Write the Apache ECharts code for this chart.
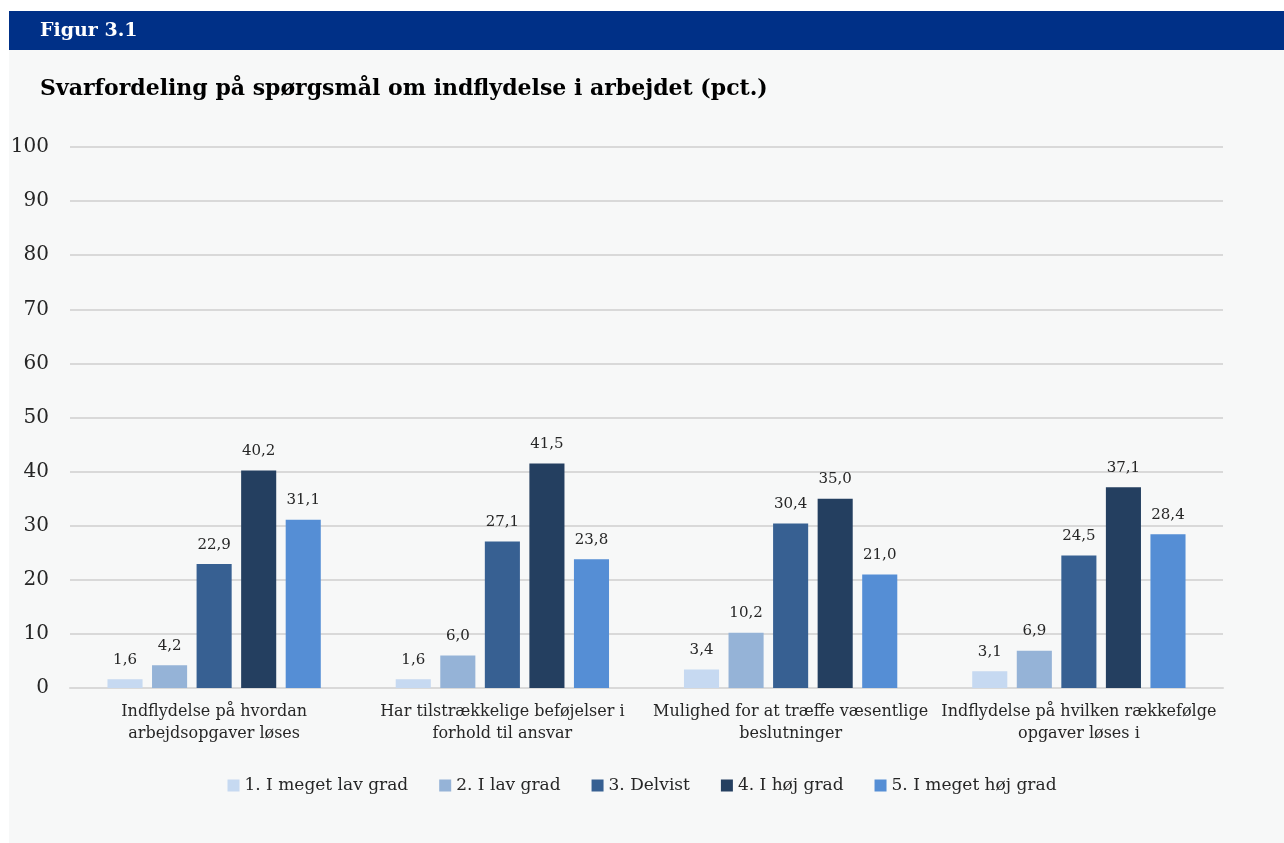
<!DOCTYPE html>
<html>
<head>
<meta charset="utf-8">
<script src="https://cdn.jsdelivr.net/npm/echarts@6/dist/echarts.min.js"></script>
<style>
html,body{margin:0;padding:0;background:#fff;}
#chart{width:1284px;height:843px;}
</style>
</head>
<body>
<div id="chart"></div>
<script>
var figureLabel = 'Figur 3.1';
var chartTitle = 'Svarfordeling på spørgsmål om indflydelse i arbejdet (pct.)';
var categories = [
  'Indflydelse på hvordan\narbejdsopgaver løses',
  'Har tilstrækkelige beføjelser i\nforhold til ansvar',
  'Mulighed for at træffe væsentlige\nbeslutninger',
  'Indflydelse på hvilken rækkefølge\nopgaver løses i'
];
var seriesNames = ['1. I meget lav grad', '2. I lav grad', '3. Delvist', '4. I høj grad', '5. I meget høj grad'];
var s1 = [1.6, 1.6, 3.4, 3.1];
var s2 = [4.2, 6.0, 10.2, 6.9];
var s3 = [22.9, 27.1, 30.4, 24.5];
var s4 = [40.2, 41.5, 35.0, 37.1];
var s5 = [31.1, 23.8, 21.0, 28.4];
var yTicks = [0, 10, 20, 30, 40, 50, 60, 70, 80, 90, 100];

var seriesValues = [s1, s2, s3, s4, s5];
var colors = ['#c6d9f1', '#95b3d7', '#376092', '#243f60', '#558ed5'];
var FONT = 'DejaVu Serif';

var chart = echarts.init(document.getElementById('chart'), null, {renderer: 'canvas'});
var option = {
  backgroundColor: '#ffffff',
  animation: false,
  color: colors,
  graphic: [
    {type: 'rect', z: -10, shape: {x: 9, y: 50, width: 1275, height: 793}, style: {fill: '#f7f8f8'}},
    {type: 'rect', z: -10, shape: {x: 9, y: 11, width: 1275, height: 39}, style: {fill: '#003087'}},
    {type: 'text', left: 40, top: 22, style: {text: figureLabel, fill: '#ffffff', font: 'bold 19px "DejaVu Serif"'}},
    {type: 'text', left: 40, top: 78, style: {text: chartTitle, fill: '#000000', font: 'bold 22px "DejaVu Serif"'}}
  ],
  grid: {left: 70, right: 61, top: 147, bottom: 155, containLabel: false},
  legend: {
    top: 772,
    left: 'center',
    itemWidth: 12,
    itemHeight: 12,
    itemGap: 31,
    icon: 'rect',
    textStyle: {fontFamily: FONT, fontSize: 17, color: '#262626'},
    data: seriesNames
  },
  xAxis: {
    type: 'category',
    data: categories,
    axisLine: {lineStyle: {color: '#d9d9d9', width: 2}},
    axisTick: {show: false},
    axisLabel: {fontFamily: FONT, fontSize: 16, color: '#262626', lineHeight: 22, margin: 13, interval: 0}
  },
  yAxis: {
    type: 'value',
    min: yTicks[0],
    max: yTicks[yTicks.length - 1],
    interval: yTicks[1] - yTicks[0],
    axisLine: {show: false},
    axisTick: {show: false},
    splitLine: {lineStyle: {color: '#d9d9d9', width: 2}},
    axisLabel: {fontFamily: FONT, fontSize: 20, color: '#262626', margin: 21}
  },
  series: seriesNames.map(function (name, i) {
    return {
      name: name,
      type: 'bar',
      data: seriesValues[i],
      barGap: '27%',
      barCategoryGap: '26%',
      itemStyle: {color: colors[i]},
      label: {
        show: true,
        position: 'top',
        distance: 12,
        fontFamily: FONT,
        fontSize: 15,
        color: '#262626',
        formatter: function (p) { return p.value.toFixed(1).replace('.', ','); }
      }
    };
  })
};
chart.setOption(option);
</script>
</body>
</html>
